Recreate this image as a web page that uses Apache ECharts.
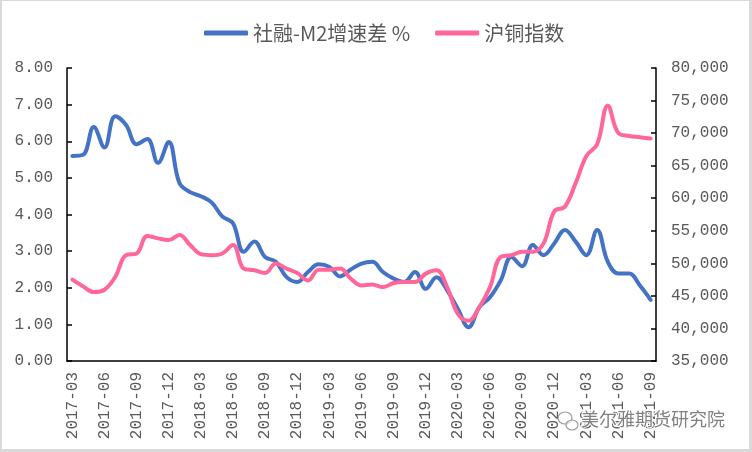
<!DOCTYPE html>
<html><head><meta charset="utf-8">
<script src="https://cdn.jsdelivr.net/npm/echarts@6/dist/echarts.min.js"></script>
<style>
html,body{margin:0;padding:0;background:#fff}
#wrap{position:relative;width:752px;height:452px}
#c{width:752px;height:452px}
#b{position:absolute;left:0;top:0;width:752px;height:452px;box-sizing:border-box;border-style:solid;border-color:#d9d9d9;border-width:1px 3px 3px 2px;pointer-events:none}
</style>
</head><body>
<div id="wrap"><div id="c"></div><div id="b"></div></div>
<script>
const months = [
 '2017-03','2017-04','2017-05','2017-06','2017-07','2017-08','2017-09','2017-10','2017-11','2017-12',
 '2018-01','2018-02','2018-03','2018-04','2018-05','2018-06','2018-07','2018-08','2018-09','2018-10','2018-11','2018-12',
 '2019-01','2019-02','2019-03','2019-04','2019-05','2019-06','2019-07','2019-08','2019-09','2019-10','2019-11','2019-12',
 '2020-01','2020-02','2020-03','2020-04','2020-05','2020-06','2020-07','2020-08','2020-09','2020-10','2020-11','2020-12',
 '2021-01','2021-02','2021-03','2021-04','2021-05','2021-06','2021-07','2021-08','2021-09'
];
const spreadM2 = [
 5.60,5.63,6.39,5.83,6.68,6.45,5.92,6.06,5.41,5.98,
 4.86,4.61,4.50,4.33,3.95,3.76,2.98,3.26,2.84,2.71,2.29,2.16,
 2.43,2.64,2.57,2.31,2.50,2.66,2.71,2.43,2.25,2.16,2.43,1.97,
 2.29,1.93,1.42,0.92,1.47,1.74,2.20,2.84,2.59,3.17,2.89,3.21,
 3.58,3.26,2.89,3.58,2.71,2.39,2.39,2.06,1.67
];
const copperIndex = [
 47490,46460,45580,45940,47900,51250,51510,54200,53830,53580,
 54350,52800,51410,51250,51510,52800,49190,48930,48520,49960,49190,48520,
 47380,49030,49030,49190,47640,46610,46760,46350,46970,47130,47130,48420,
 48930,46350,42220,41190,43260,46350,51000,51250,51770,51770,53060,57960,
 58740,62350,66480,68280,74220,69980,69570,69370,69160
];
const seriesNames = ['社融-M2增速差 %','沪铜指数'];
const watermark = '美尔雅期货研究院';

const axisColor = '#000';
const labelStyle = {fontSize:16, fontFamily:'Liberation Mono', color:'#595959'};
const chart = echarts.init(document.getElementById('c'));
chart.setOption({
  animation:false,
  backgroundColor:'#fff',
  grid:{left:67, right:96, top:68, bottom:91},
  legend:{
    left:199, top:18, itemWidth:44, itemHeight:5, itemGap:25, icon:'roundRect',
    textStyle:{fontSize:20, color:'#595959', fontFamily:'Noto Sans CJK SC'},
    data:seriesNames
  },
  xAxis:{
    type:'category', data:months, boundaryGap:true,
    axisLine:{lineStyle:{color:axisColor, width:1.5}},
    axisTick:{interval:2, length:4, lineStyle:{color:axisColor, width:1.5}},
    axisLabel:Object.assign({interval:2, rotate:90, margin:11}, labelStyle)
  },
  yAxis:[
    {type:'value', min:0, max:8, interval:1, position:'left',
     axisLine:{show:true, lineStyle:{color:axisColor, width:1.5}},
     axisTick:{show:true, inside:true, length:5, lineStyle:{color:axisColor, width:1.5}},
     splitLine:{show:false},
     axisLabel:Object.assign({margin:14, formatter:v=>v.toFixed(2)}, labelStyle)},
    {type:'value', min:35000, max:80000, interval:5000, position:'right',
     axisLine:{show:true, lineStyle:{color:axisColor, width:1.5}},
     axisTick:{show:true, inside:true, length:5, lineStyle:{color:axisColor, width:1.5}},
     splitLine:{show:false},
     axisLabel:Object.assign({margin:15, formatter:v=>v.toLocaleString('en-US')}, labelStyle)}
  ],
  series:[
    {name:seriesNames[0], type:'line', data:spreadM2, yAxisIndex:0, smooth:0.4,
     showSymbol:false, symbol:'none', color:'#4472C4',
     lineStyle:{width:4, color:'#4472C4', cap:'round', join:'round'}},
    {name:seriesNames[1], type:'line', data:copperIndex, yAxisIndex:1, smooth:0.4,
     showSymbol:false, symbol:'none', color:'#FF6699',
     lineStyle:{width:4, color:'#FF6699', cap:'round', join:'round'}}
  ],
  graphic:[
    {type:'ellipse', shape:{cx:565, cy:418, rx:7, ry:6}, style:{fill:'rgba(255,255,255,0.6)', stroke:'#9a9a9a', lineWidth:1.2}, z:100},
    {type:'ellipse', shape:{cx:572, cy:425, rx:6, ry:5}, style:{fill:'rgba(255,255,255,0.6)', stroke:'#9a9a9a', lineWidth:1.2}, z:101},
    {type:'text', left:580, top:409, z:102,
     style:{text:watermark, fontSize:18, fontFamily:'Noto Sans CJK SC', fill:'#808080', stroke:'#fff', lineWidth:2}}
  ]
});
</script>
</body></html>
